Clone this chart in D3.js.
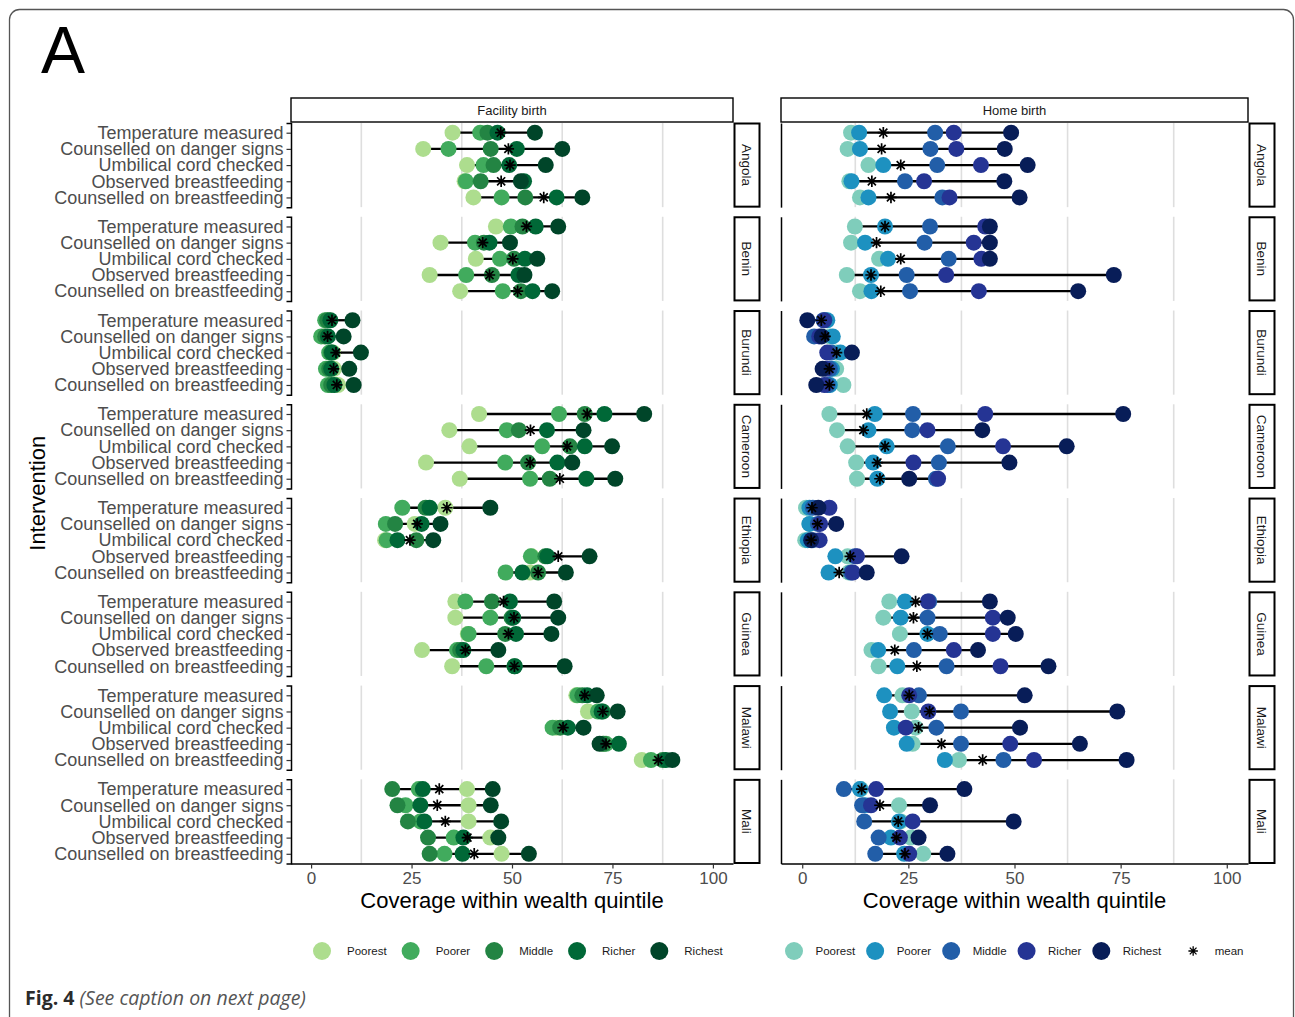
<!DOCTYPE html>
<html>
<head>
<meta charset="utf-8">
<script src="https://cdn.jsdelivr.net/npm/d3@7"></script>
<style>
  html, body { margin: 0; padding: 0; background: #fff; }
  svg { display: block; font-family: "Liberation Sans", Arial, Helvetica, sans-serif; }
</style>
</head>
<body>
<svg id="chart" width="1295" height="1017"></svg>
<script>
var countries = ["Angola", "Benin", "Burundi", "Cameroon", "Ethiopia", "Guinea", "Malawi", "Mali"];
var interventions = ["Temperature measured", "Counselled on danger signs", "Umbilical cord checked",
    "Observed breastfeeding", "Counselled on breastfeeding"];
var quintiles = ["Poorest", "Poorer", "Middle", "Richer", "Richest"];
var xTicks = [0, 25, 50, 75, 100];
var panels = ["Facility birth", "Home birth"];

var greens = ["#addd8e", "#41ab5d", "#238443", "#006837", "#004529"];
var blues = ["#7fcdbb", "#1d91c0", "#225ea8", "#253494", "#081d58"];

// coverage per quintile (Poorest..Richest), one row per intervention, one block per country
var facilityValues = [
    [[35.2, 42.1, 43.9, 46.4, 55.7], [27.9, 34.2, 44.7, 51.2, 62.5], [38.8, 42.9, 45.4, 49.3, 58.4], [38.2, 38.5, 42.2, 53.0, 52.2], [40.4, 47.4, 53.3, 61.1, 67.5]],
    [[46.0, 49.7, 52.6, 55.9, 61.5], [32.2, 40.8, 43.0, 44.4, 49.5], [41.0, 47.0, 50.5, 53.2, 56.3], [29.5, 38.6, 45.0, 51.6, 53.1], [37.1, 47.7, 52.2, 55.1, 60.0]],
    [[4.5, 3.5, 4.0, 4.8, 10.3], [3.2, 2.5, 3.5, 4.2, 8.1], [5.5, 4.5, 5.0, 5.2, 12.4], [5.7, 3.7, 4.5, 5.0, 9.5], [6.7, 4.2, 5.0, 5.8, 10.6]],
    [[41.8, 61.7, 68.1, 73.0, 82.9], [34.4, 48.7, 51.7, 58.7, 67.8], [39.4, 57.5, 64.4, 68.1, 74.9], [28.6, 48.3, 54.0, 61.3, 65.0], [37.0, 54.5, 59.4, 68.5, 75.7]],
    [[33.4, 22.7, 28.5, 29.5, 44.6], [25.8, 18.6, 20.9, 27.5, 32.2], [18.4, 18.8, 26.2, 21.5, 30.4], [54.9, 54.7, 58.3, 58.8, 69.3], [54.5, 48.4, 56.5, 52.6, 63.4]],
    [[35.9, 38.4, 45.0, 49.5, 60.5], [35.9, 44.6, 49.9, 50.3, 61.5], [39.0, 39.2, 48.3, 51.0, 59.8], [27.6, 36.3, 37.1, 37.9, 46.6], [35.1, 43.6, 50.6, 50.7, 63.1]],
    [[66.0, 66.3, 67.5, 68.7, 71.1], [68.9, 71.4, 72.6, 72.3, 76.3], [61.0, 60.1, 62.0, 63.9, 67.8], [72.5, 73.4, 72.8, 76.6, 71.8], [82.3, 84.6, 87.5, 88.3, 89.9]],
    [[38.8, 26.8, 20.2, 27.8, 45.2], [39.2, 23.5, 21.5, 27.2, 44.7], [39.2, 27.2, 24.1, 28.2, 47.3], [44.6, 35.5, 29.1, 37.9, 46.6], [47.4, 33.2, 29.5, 37.7, 54.2]]
];
var facilityMeans = [
    [47.2, 49.1, 49.5, 47.3, 57.9],
    [53.6, 42.7, 50.2, 44.4, 51.4],
    [5.2, 4.1, 6.2, 5.6, 6.4],
    [68.7, 54.6, 63.7, 54.5, 61.9],
    [33.8, 26.4, 24.6, 61.5, 56.5],
    [47.9, 50.5, 49.1, 38.4, 50.6],
    [68.1, 72.6, 62.7, 73.4, 86.4],
    [31.9, 31.4, 33.4, 38.9, 40.6]
];
var homeValues = [
    [[11.5, 13.4, 31.3, 35.7, 49.2], [10.7, 13.6, 30.2, 36.3, 47.7], [15.6, 19.1, 31.8, 42.1, 53.1], [11.1, 11.6, 24.2, 28.7, 47.6], [13.6, 15.6, 33.0, 34.7, 51.2]],
    [[12.4, 19.5, 30.1, 43.1, 44.2], [11.5, 14.8, 28.8, 40.4, 44.2], [18.1, 20.2, 34.5, 42.2, 44.2], [10.5, 16.2, 24.6, 33.9, 73.4], [13.6, 16.3, 25.4, 41.6, 65.0]],
    [[5.5, 5.9, 5.0, 5.2, 1.2], [6.5, 7.2, 2.8, 4.0, 4.6], [8.0, 9.0, 6.8, 5.9, 11.7], [8.0, 7.0, 6.5, 5.6, 4.8], [9.7, 6.5, 6.0, 5.2, 3.3]],
    [[6.4, 17.1, 26.1, 43.1, 75.6], [8.2, 15.6, 25.9, 29.5, 42.4], [10.7, 19.9, 34.3, 47.3, 62.3], [12.7, 16.7, 32.2, 26.2, 48.8], [12.9, 17.7, 31.5, 32.0, 25.2]],
    [[0.9, 1.7, 2.5, 6.4, 3.8], [1.7, 1.7, 3.7, 4.2, 8.0], [0.7, 1.3, 2.5, 4.1, 2.1], [10.7, 7.8, 12.4, 12.9, 23.4], [11.0, 6.2, 11.5, 11.9, 15.2]],
    [[20.5, 24.2, 29.9, 29.6, 44.2], [19.1, 23.2, 29.5, 44.9, 48.4], [23.0, 29.5, 32.4, 44.9, 50.3], [16.3, 17.9, 26.3, 35.7, 41.4], [18.0, 22.4, 34.0, 46.7, 58.0]],
    [[23.6, 19.3, 27.5, 25.2, 52.4], [25.8, 20.7, 37.4, 29.7, 74.2], [26.7, 21.6, 31.6, 24.4, 51.3], [26.0, 24.6, 37.4, 49.0, 65.4], [36.9, 33.6, 47.4, 54.6, 76.4]],
    [[13.8, 13.6, 9.8, 17.4, 38.2], [22.8, 14.8, 14.1, 16.2, 30.1], [23.2, 22.8, 14.6, 26.0, 49.8], [25.6, 20.9, 18.0, 23.0, 27.4], [28.5, 24.0, 17.2, 25.2, 34.2]]
];
var homeMeans = [
    [19.1, 18.7, 23.2, 16.4, 20.9],
    [19.5, 17.5, 23.2, 16.2, 18.5],
    [4.5, 5.4, 8.1, 6.4, 6.4],
    [15.2, 14.4, 19.5, 17.7, 18.3],
    [2.3, 3.6, 2.1, 11.3, 8.7],
    [26.7, 26.2, 29.5, 21.8, 27.0],
    [25.2, 30.0, 27.4, 32.8, 42.5],
    [14.0, 18.3, 22.6, 22.2, 24.2]
];

var svg = d3.select("#chart");
var textGrey = "#4d4d4d";

// ggplot-style 8 armed asterisk (shape 8)
var asterisk8 = {
    draw: function (ctx, size) {
        var r = Math.sqrt(size) / 2, d = r * Math.SQRT1_2;
        ctx.moveTo(-r, 0); ctx.lineTo(r, 0);
        ctx.moveTo(0, -r); ctx.lineTo(0, r);
        ctx.moveTo(-d, -d); ctx.lineTo(d, d);
        ctx.moveTo(-d, d); ctx.lineTo(d, -d);
    }
};
var meanSymbol = d3.symbol().type(asterisk8).size(130);
var legendSymbol = d3.symbol().type(asterisk8).size(90);

// frame round the figure
svg.append("rect")
    .attr("x", 9.5).attr("y", 9.5).attr("width", 1284).attr("height", 1040)
    .attr("rx", 10).attr("fill", "none").attr("stroke", "#555").attr("stroke-width", 1.3);

svg.append("text").attr("x", 41).attr("y", 73)
    .attr("font-size", 66).attr("fill", "#000").text("A");

var plotTop = 123, plotBottom = 863.5;
var yPanel = d3.scaleBand().domain(countries).range([plotTop, plotBottom]).paddingInner(0.1025).paddingOuter(0);
var yRow = d3.scalePoint().domain(interventions).range([0, yPanel.bandwidth()]).padding(0.6);

var layouts = [
    {title: panels[0], x0: 291, x1: 733, values: facilityValues, means: facilityMeans, colors: greens,
        labels: true, legendX: 313, labelOff: 25, gap: 15},
    {title: panels[1], x0: 781, x1: 1248, values: homeValues, means: homeMeans, colors: blues,
        labels: false, legendX: 785, labelOff: 21.5, gap: 11}
];

layouts.forEach(function (p) {
    var x = d3.scaleLinear().domain([-5, 105]).range([p.x0, p.x1]);
    var g = svg.append("g");

    // top strip
    g.append("rect").attr("x", p.x0).attr("y", 98).attr("width", p.x1 - p.x0).attr("height", 24)
        .attr("fill", "#fff").attr("stroke", "#000").attr("stroke-width", 1.4);
    g.append("text").attr("x", (p.x0 + p.x1) / 2).attr("y", 110).attr("dy", "0.35em")
        .attr("text-anchor", "middle").attr("font-size", 13).attr("fill", "#1a1a1a").text(p.title);

    countries.forEach(function (country, ci) {
        var top = yPanel(country), h = yPanel.bandwidth();
        var pg = g.append("g").attr("transform", "translate(0," + top + ")");

        // minor grid lines only
        pg.selectAll(".grid").data([12.5, 37.5, 62.5, 87.5]).enter().append("line")
            .attr("x1", function (d) { return x(d); }).attr("x2", function (d) { return x(d); })
            .attr("y1", 0).attr("y2", h)
            .attr("stroke", "#dedede").attr("stroke-width", 1.6);

        var rows = interventions.map(function (name, ri) {
            return {name: name, vals: p.values[ci][ri], mean: p.means[ci][ri]};
        });

        pg.selectAll(".seg").data(rows).enter().append("line")
            .attr("x1", function (d) { return x(d3.min(d.vals)); })
            .attr("x2", function (d) { return x(d3.max(d.vals)); })
            .attr("y1", function (d) { return yRow(d.name); })
            .attr("y2", function (d) { return yRow(d.name); })
            .attr("stroke", "#000").attr("stroke-width", 2.3);

        quintiles.forEach(function (q, qi) {
            pg.selectAll(".pt" + qi).data(rows).enter().append("circle")
                .attr("cx", function (d) { return x(d.vals[qi]); })
                .attr("cy", function (d) { return yRow(d.name); })
                .attr("r", 8).attr("fill", p.colors[qi]);
        });

        pg.selectAll(".mean").data(rows).enter().append("path")
            .attr("d", meanSymbol)
            .attr("transform", function (d) { return "translate(" + x(d.mean) + "," + yRow(d.name) + ")"; })
            .attr("fill", "none").attr("stroke", "#000").attr("stroke-width", 1.7);

        // y axis
        var yAxis = d3.axisLeft(yRow).tickSizeOuter(0);
        if (p.labels) {
            yAxis.tickSize(4.5).tickPadding(3);
        } else {
            yAxis.tickSize(0).tickFormat("");
        }
        var ya = pg.append("g").attr("transform", "translate(" + p.x0 + ",0)").call(yAxis);
        ya.select(".domain").attr("stroke", "#000").attr("stroke-width", 1.5);
        ya.selectAll(".tick line").attr("stroke", "#333").attr("stroke-width", 1.2);
        ya.selectAll(".tick text").attr("font-size", 18).attr("fill", textGrey)
            .attr("font-family", "Liberation Sans, Arial, sans-serif");

        // country strip on the right
        var sx = p.x1 + 1.5;
        pg.append("rect").attr("x", sx).attr("y", 0.5).attr("width", 25).attr("height", h - 1)
            .attr("fill", "#fff").attr("stroke", "#000").attr("stroke-width", 2);
        pg.append("text")
            .attr("transform", "translate(" + (sx + 12.5) + "," + (h / 2) + ") rotate(90)")
            .attr("text-anchor", "middle").attr("dy", "0.35em")
            .attr("font-size", 13.5).attr("fill", "#1a1a1a").text(country);
    });

    // x axis under the last panel
    var xAxis = d3.axisBottom(x).tickValues(xTicks).tickSize(5).tickSizeOuter(0).tickPadding(3);
    var xa = g.append("g").attr("transform", "translate(0," + plotBottom + ")").call(xAxis);
    xa.select(".domain").attr("stroke", "#000").attr("stroke-width", 1.5);
    xa.selectAll(".tick line").attr("stroke", "#333").attr("stroke-width", 1.2);
    xa.selectAll(".tick text").attr("font-size", 17).attr("fill", textGrey)
        .attr("font-family", "Liberation Sans, Arial, sans-serif");

    g.append("text").attr("x", (p.x0 + p.x1) / 2).attr("y", 908)
        .attr("text-anchor", "middle").attr("font-size", 22).attr("fill", "#000")
        .text("Coverage within wealth quintile");

    // legend
    var lg = g.append("g").attr("transform", "translate(" + p.legendX + ",951)");
    var cursor = 0;
    quintiles.forEach(function (q, qi) {
        lg.append("circle").attr("cx", cursor + 9).attr("cy", 0).attr("r", 9).attr("fill", p.colors[qi]);
        var t = lg.append("text").attr("x", cursor + 9 + p.labelOff).attr("y", 0).attr("dy", "0.35em")
            .attr("font-size", 11.5).attr("fill", "#1a1a1a").text(q);
        cursor += 9 + p.labelOff + t.node().getComputedTextLength() + p.gap;
    });
    if (!p.labels) {
        cursor += 12;
        lg.append("path").attr("d", legendSymbol)
            .attr("transform", "translate(" + (cursor + 9) + ",0)")
            .attr("fill", "none").attr("stroke", "#000").attr("stroke-width", 1.3);
        lg.append("text").attr("x", cursor + 9 + p.labelOff).attr("y", 0).attr("dy", "0.35em")
            .attr("font-size", 11.5).attr("fill", "#1a1a1a").text("mean");
    }
});

svg.append("text")
    .attr("transform", "translate(45," + ((plotTop + plotBottom) / 2) + ") rotate(-90)")
    .attr("text-anchor", "middle").attr("font-size", 22).attr("fill", "#000").text("Intervention");

var cap = svg.append("text").attr("x", 25).attr("y", 1005)
    .attr("font-family", "'Open Sans', 'Noto Sans', sans-serif").attr("font-size", 19.5);
cap.append("tspan").attr("font-weight", "bold").attr("fill", "#2b2b2b").text("Fig. 4");
cap.append("tspan").attr("font-style", "italic").attr("fill", "#555").text(" (See caption on next page)");
</script>
</body>
</html>
